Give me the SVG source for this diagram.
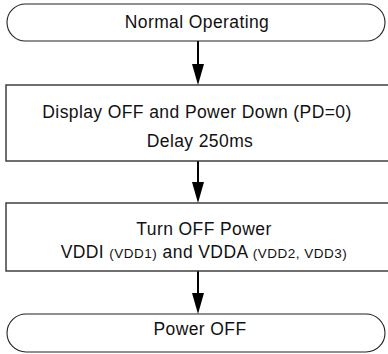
<svg xmlns="http://www.w3.org/2000/svg" width="388" height="354" viewBox="0 0 388 354">
<defs>
<style>
.term{fill:#fff;stroke:#222;stroke-width:1.1}
.box{fill:#fff;stroke:#333;stroke-width:1.4}
.t{font-family:"Liberation Sans",Arial,sans-serif;font-size:17.5px;letter-spacing:0.4px;fill:#111;text-anchor:middle}
.s{font-size:13.5px;letter-spacing:0.5px}
.conn{stroke:#000;stroke-width:2;fill:none}
.ah{fill:#000}
</style>
</defs>
<g id="connectors">
<line class="conn" x1="198" y1="41" x2="198" y2="66"/>
<polygon class="ah" points="192,64 204,64 198,85"/>
<line class="conn" x1="198" y1="161" x2="198" y2="184"/>
<polygon class="ah" points="192,182 204,182 198,203"/>
<line class="conn" x1="198" y1="271" x2="198" y2="295"/>
<polygon class="ah" points="192,293 204,293 198,314"/>
</g>
<g id="n1">
<rect class="term" x="7" y="4" width="378" height="37" rx="18.5"/>
<text class="t" x="197" y="28">Normal Operating</text>
</g>
<g id="n2">
<rect class="box" x="6" y="85" width="384" height="76"/>
<text class="t" x="197" y="118">Display OFF and Power Down (PD=0)</text>
<text class="t" x="200" y="147">Delay 250ms</text>
</g>
<g id="n3">
<rect class="box" x="6" y="203" width="384" height="68"/>
<text class="t" x="204" y="235">Turn OFF Power</text>
<text class="t" x="204" y="258">VDDI <tspan class="s">(VDD1)</tspan> and VDDA <tspan class="s">(VDD2, VDD3)</tspan></text>
</g>
<g id="n4">
<rect class="term" x="7" y="314" width="378" height="38" rx="19"/>
<text class="t" x="200" y="335">Power OFF</text>
</g>
</svg>
